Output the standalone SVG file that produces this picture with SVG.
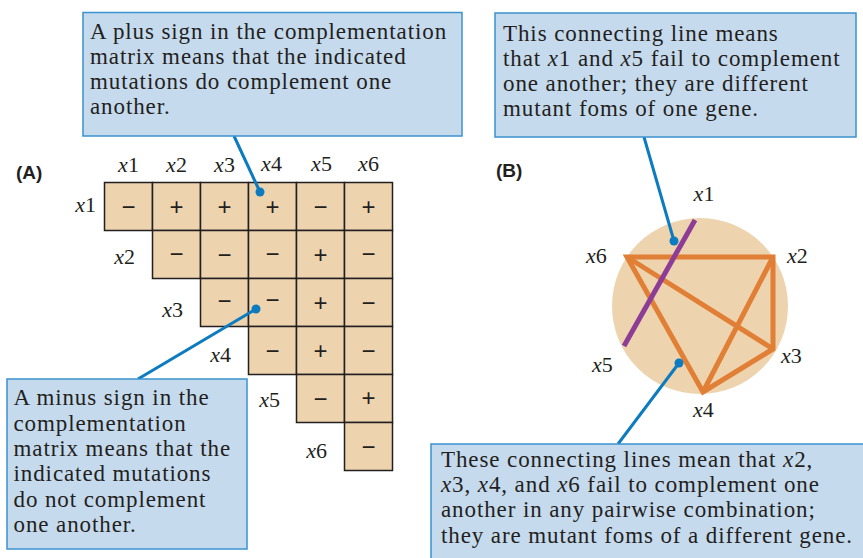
<svg xmlns="http://www.w3.org/2000/svg" width="863" height="558" viewBox="0 0 863 558">
<style>
.cell{fill:#EDD3AE;stroke:#231F20;stroke-width:1.5}
.sg{font-family:"Liberation Sans",Arial,sans-serif;font-size:24px;fill:#231F20;text-anchor:middle}
.lb{font-family:"Liberation Serif","Times New Roman",serif;font-size:22px;fill:#231F20}
.mid{text-anchor:middle}
.end{text-anchor:end}
.pn{font-family:"Liberation Sans",Arial,sans-serif;font-size:19px;font-weight:bold;fill:#231F20}
.box{fill:#C6DAEE;stroke:#3A93CF;stroke-width:1.5}
.ct{font-family:"Liberation Serif","Times New Roman",serif;font-size:23px;letter-spacing:0.9px;fill:#231F20}
.conn{stroke:#0C7BBF;stroke-width:3;fill:none}
.dot{fill:#0C7BBF}
.or{stroke:#E07F35;stroke-width:5;fill:none;stroke-linejoin:miter}
.pu{stroke:#8E3D96;stroke-width:5}
</style>

<text class="pn" x="16" y="179">(A)</text>
<text class="pn" x="496" y="177">(B)</text>

<g id="matrix">
<rect class="cell" x="104.5" y="182.5" width="48" height="48"/>
<rect class="cell" x="152.5" y="182.5" width="48" height="48"/>
<rect class="cell" x="200.5" y="182.5" width="48" height="48"/>
<rect class="cell" x="248.5" y="182.5" width="48" height="48"/>
<rect class="cell" x="296.5" y="182.5" width="48" height="48"/>
<rect class="cell" x="344.5" y="182.5" width="48" height="48"/>
<rect class="cell" x="152.5" y="230.5" width="48" height="48"/>
<rect class="cell" x="200.5" y="230.5" width="48" height="48"/>
<rect class="cell" x="248.5" y="230.5" width="48" height="48"/>
<rect class="cell" x="296.5" y="230.5" width="48" height="48"/>
<rect class="cell" x="344.5" y="230.5" width="48" height="48"/>
<rect class="cell" x="200.5" y="278.5" width="48" height="48"/>
<rect class="cell" x="248.5" y="278.5" width="48" height="48"/>
<rect class="cell" x="296.5" y="278.5" width="48" height="48"/>
<rect class="cell" x="344.5" y="278.5" width="48" height="48"/>
<rect class="cell" x="248.5" y="326.5" width="48" height="48"/>
<rect class="cell" x="296.5" y="326.5" width="48" height="48"/>
<rect class="cell" x="344.5" y="326.5" width="48" height="48"/>
<rect class="cell" x="296.5" y="374.5" width="48" height="48"/>
<rect class="cell" x="344.5" y="374.5" width="48" height="48"/>
<rect class="cell" x="344.5" y="422.5" width="48" height="48"/>

<text class="sg" x="128.5" y="214.5">−</text>
<text class="sg" x="176.5" y="215">+</text>
<text class="sg" x="224.5" y="215">+</text>
<text class="sg" x="272.5" y="215">+</text>
<text class="sg" x="320.5" y="214.5">−</text>
<text class="sg" x="368.5" y="215">+</text>
<text class="sg" x="176.5" y="261.5">−</text>
<text class="sg" x="224.5" y="262.5">−</text>
<text class="sg" x="272.5" y="261.5">−</text>
<text class="sg" x="320.5" y="263">+</text>
<text class="sg" x="368.5" y="261.5">−</text>
<text class="sg" x="224.5" y="308.5">−</text>
<text class="sg" x="272.5" y="307.5">−</text>
<text class="sg" x="320.5" y="310.5">+</text>
<text class="sg" x="368.5" y="310.5">−</text>
<text class="sg" x="272.5" y="358.5">−</text>
<text class="sg" x="320.5" y="359">+</text>
<text class="sg" x="368.5" y="358.5">−</text>
<text class="sg" x="320.5" y="406.5">−</text>
<text class="sg" x="368.5" y="406">+</text>
<text class="sg" x="368.5" y="454.5">−</text>

<text class="lb mid" x="128.5" y="172"><tspan font-style="italic">x</tspan>1</text>
<text class="lb mid" x="176.5" y="172"><tspan font-style="italic">x</tspan>2</text>
<text class="lb mid" x="224.5" y="172"><tspan font-style="italic">x</tspan>3</text>
<text class="lb mid" x="271.5" y="171"><tspan font-style="italic">x</tspan>4</text>
<text class="lb mid" x="321.5" y="171"><tspan font-style="italic">x</tspan>5</text>
<text class="lb mid" x="368.5" y="171"><tspan font-style="italic">x</tspan>6</text>

<text class="lb end" x="96" y="212"><tspan font-style="italic">x</tspan>1</text>
<text class="lb end" x="135" y="264"><tspan font-style="italic">x</tspan>2</text>
<text class="lb end" x="183" y="317"><tspan font-style="italic">x</tspan>3</text>
<text class="lb end" x="231" y="362"><tspan font-style="italic">x</tspan>4</text>
<text class="lb end" x="280" y="407"><tspan font-style="italic">x</tspan>5</text>
<text class="lb end" x="327" y="458"><tspan font-style="italic">x</tspan>6</text>
</g>

<g id="graph">
<circle cx="700" cy="306" r="88" fill="#EDD3AE"/>
<polygon class="or" points="627,257 773,257 773,349 703,392"/>
<line class="or" x1="627" y1="257" x2="773" y2="349"/>
<line class="or" x1="773" y1="257" x2="703" y2="392"/>
<line class="pu" x1="695" y1="220" x2="624" y2="346"/>
</g>

<g id="node-x1"><text class="lb mid" x="704" y="201"><tspan font-style="italic">x</tspan>1</text></g>
<g id="node-x2"><text class="lb" x="787" y="263"><tspan font-style="italic">x</tspan>2</text></g>
<g id="node-x3"><text class="lb" x="781" y="363"><tspan font-style="italic">x</tspan>3</text></g>
<g id="node-x4"><text class="lb" x="693" y="417"><tspan font-style="italic">x</tspan>4</text></g>
<g id="node-x5"><text class="lb" x="592" y="372"><tspan font-style="italic">x</tspan>5</text></g>
<g id="node-x6"><text class="lb" x="586" y="263"><tspan font-style="italic">x</tspan>6</text></g>

<g id="connectors">
<line class="conn" x1="234" y1="136" x2="260" y2="192"/>
<circle class="dot" cx="260" cy="192" r="4.5"/>
<line class="conn" x1="138" y1="379" x2="256" y2="309"/>
<circle class="dot" cx="256" cy="309" r="4.5"/>
<line class="conn" x1="644" y1="137" x2="674" y2="241"/>
<circle class="dot" cx="674" cy="241" r="4.5"/>
<line class="conn" x1="618" y1="444" x2="679" y2="363"/>
<circle class="dot" cx="679" cy="363" r="4.5"/>
</g>

<g id="callout-plus">
<rect class="box" x="83" y="12.5" width="379" height="123.5"/>
<text class="ct" x="90" y="39">A plus sign in the complementation</text>
<text class="ct" x="90" y="64">matrix means that the indicated</text>
<text class="ct" x="90" y="89">mutations do complement one</text>
<text class="ct" x="90" y="114">another.</text>
</g>

<g id="callout-x1x5">
<rect class="box" x="495" y="13" width="361" height="124"/>
<text class="ct" x="503" y="41">This connecting line means</text>
<text class="ct" x="503" y="66">that <tspan font-style="italic">x</tspan>1 and <tspan font-style="italic">x</tspan>5 fail to complement</text>
<text class="ct" x="503" y="91">one another; they are different</text>
<text class="ct" x="503" y="116">mutant foms of one gene.</text>
</g>

<g id="callout-minus">
<rect class="box" x="7" y="379" width="240" height="170"/>
<text class="ct" x="13.5" y="405">A minus sign in the</text>
<text class="ct" x="13.5" y="430.5">complementation</text>
<text class="ct" x="13.5" y="456">matrix means that the</text>
<text class="ct" x="13.5" y="481">indicated mutations</text>
<text class="ct" x="13.5" y="506.5">do not complement</text>
<text class="ct" x="13.5" y="532">one another.</text>
</g>

<g id="callout-lines">
<rect class="box" x="431" y="444" width="440" height="124"/>
<text class="ct" x="441" y="467">These connecting lines mean that <tspan font-style="italic">x</tspan>2,</text>
<text class="ct" x="441" y="492"><tspan font-style="italic">x</tspan>3, <tspan font-style="italic">x</tspan>4, and <tspan font-style="italic">x</tspan>6 fail to complement one</text>
<text class="ct" x="441" y="517">another in any pairwise combination;</text>
<text class="ct" x="441" y="543">they are mutant foms of a different gene.</text>
</g>
</svg>
